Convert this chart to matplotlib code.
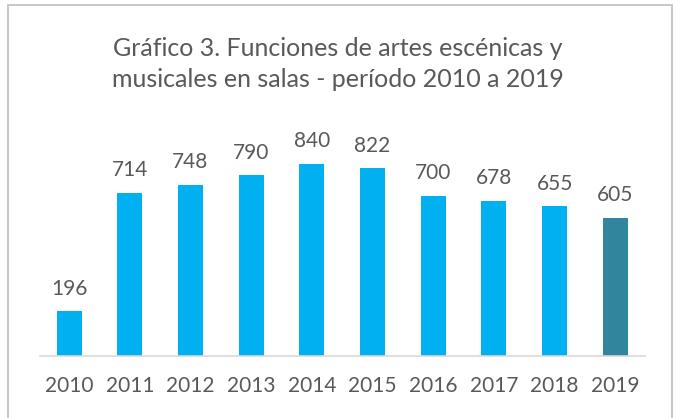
import matplotlib.pyplot as plt
from matplotlib.patches import Rectangle

years = ['2010', '2011', '2012', '2013', '2014', '2015', '2016', '2017', '2018', '2019']
funciones = [196, 714, 748, 790, 840, 822, 700, 678, 655, 605]
colores = ['#00B0F0'] * 9 + ['#31859C']

plt.rcParams['font.family'] = ['Lato', 'DejaVu Sans']
gris = '#595959'

fig = plt.figure(figsize=(6.77, 4.18), dpi=100)
fig.patches.append(Rectangle((8 / 677, -0.05), 664 / 677, 1.05 - 5 / 418,
                             transform=fig.transFigure, fill=False,
                             edgecolor='#BFBFBF', linewidth=1.2))

ax = fig.add_axes([40 / 677, 62 / 418, 605 / 677, 205.7 / 418])
x = range(len(years))
bars = ax.bar(x, funciones, width=0.41, color=colores)
for b, v in zip(bars, funciones):
    ax.text(b.get_x() + b.get_width() / 2, v + 55, str(v), ha='center', va='bottom',
            fontsize=15, color=gris)

ax.set_xlim(-0.48, 9.49)
ax.set_ylim(0, 900)
ax.set_xticks(list(x))
ax.set_xticklabels(years, fontsize=15, color=gris)
ax.tick_params(axis='x', length=0, pad=14.5)
ax.set_yticks([])
for s in ['top', 'right', 'left']:
    ax.spines[s].set_visible(False)
ax.spines['bottom'].set_color('#D9D9D9')
ax.spines['bottom'].set_linewidth(1.2)

fig.text(338 / 677, 1 - 64 / 418,
         'Gráfico 3. Funciones de artes escénicas y\nmusicales en salas - período 2010 a 2019',
         ha='center', va='center', fontsize=18, color=gris, linespacing=1.4)

fig.savefig('out.png', dpi=100)
